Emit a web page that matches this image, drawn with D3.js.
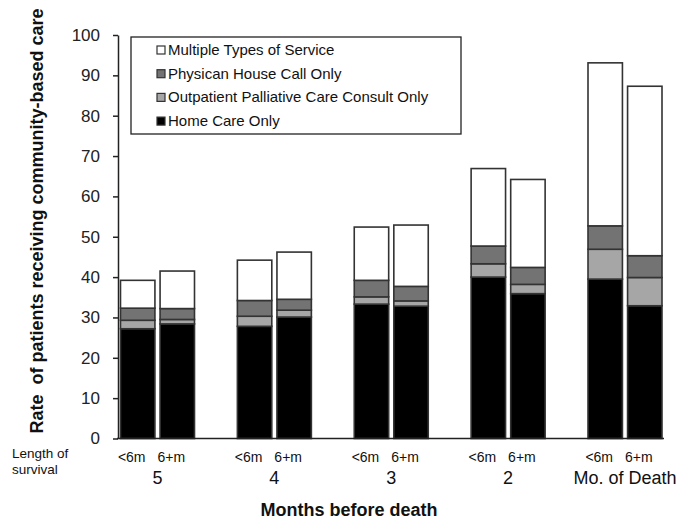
<!DOCTYPE html>
<html>
<head>
<meta charset="utf-8">
<script src="https://cdn.jsdelivr.net/npm/d3@7"></script>
<style>
html,body{margin:0;padding:0;background:#fff;}
svg{display:block;font-family:"Liberation Sans",Arial,sans-serif;}
</style>
</head>
<body>
<svg id="chart" width="676" height="519"></svg>
<script>
const months = ["5", "4", "3", "2", "Mo. of Death"];
const survival = ["<6m", "6+m"];
const seriesNames = ["Home Care Only", "Outpatient Palliative Care Consult Only", "Physican House Call Only", "Multiple Types of Service"];
const seriesColors = ["#000000", "#a6a6a6", "#737373", "#ffffff"];
// values per bar, in order: 5 <6m, 5 6+m, 4 <6m, 4 6+m, ...
const homeCare     = [27.2, 28.4, 27.8, 30.1, 33.3, 32.8, 40.0, 35.9, 39.5, 32.9];
const outpatient   = [2.1, 1.1, 2.5, 1.7, 1.8, 1.3, 3.3, 2.3, 7.4, 7.0];
const physician    = [3.0, 2.7, 3.9, 2.7, 4.1, 3.6, 4.4, 4.2, 5.8, 5.4];
const multiple     = [6.9, 9.3, 10.0, 11.7, 13.2, 15.2, 19.2, 21.8, 40.4, 42.0];
const yTicks = [0, 10, 20, 30, 40, 50, 60, 70, 80, 90, 100];

const svg = d3.select("#chart");
const font = '"Liberation Sans",Arial,sans-serif';

const rows = [];
months.forEach((m, i) => survival.forEach((s, j) => {
  const k = i * 2 + j;
  rows.push({month: m, surv: s, v: [homeCare[k], outpatient[k], physician[k], multiple[k]]});
}));

const y = d3.scaleLinear().domain([0, 100]).range([438.5, 35]);
const xg = d3.scalePoint().domain(months).range([157.5, 625]);
const xi = d3.scaleBand().domain(survival).range([-37, 37]).paddingInner(0.13);

// y axis
const yAxis = svg.append("g").attr("transform", "translate(118,0)")
  .call(d3.axisLeft(y).tickValues(yTicks).tickSize(5).tickPadding(13).tickSizeOuter(0));
yAxis.select(".domain").attr("stroke", "#222").attr("stroke-width", 1.5);
yAxis.selectAll(".tick line").attr("stroke", "#222").attr("stroke-width", 1.5);
yAxis.selectAll(".tick text").attr("font-size", 17).attr("fill", "#222").attr("font-family", font);

// bars
const stack = d3.stack().keys([0, 1, 2, 3]).value((d, k) => d.v[k]);
const layers = stack(rows);
svg.append("g").selectAll("g").data(layers).join("g")
  .attr("fill", (d, i) => seriesColors[i])
  .selectAll("rect").data(d => d).join("rect")
  .attr("x", d => xg(d.data.month) + xi(d.data.surv))
  .attr("width", xi.bandwidth())
  .attr("y", d => y(d[1]))
  .attr("height", d => y(d[0]) - y(d[1]))
  .attr("stroke", "#333").attr("stroke-width", 1.6);

// x baseline
svg.append("line").attr("x1", 117).attr("x2", 664).attr("y1", y(0)).attr("y2", y(0))
  .attr("stroke", "#222").attr("stroke-width", 1.5);

// survival labels
const lab = svg.append("g").attr("font-family", font).attr("fill", "#111");
rows.forEach(r => {
  lab.append("text").attr("x", xg(r.month) + xi(r.surv) + xi.bandwidth() / 2 - 6).attr("y", 462)
    .attr("text-anchor", "middle").attr("font-size", 14).text(r.surv);
});
months.forEach(m => {
  lab.append("text").attr("x", xg(m)).attr("y", 484)
    .attr("text-anchor", "middle").attr("font-size", 18).text(m);
});
lab.append("text").attr("x", 12).attr("y", 458).attr("font-size", 13.5).text("Length of");
lab.append("text").attr("x", 12).attr("y", 474).attr("font-size", 13.5).text("survival");

// axis titles
svg.append("text").attr("x", 349).attr("y", 516).attr("text-anchor", "middle")
  .attr("font-family", font).attr("font-weight", "bold").attr("font-size", 18).attr("fill", "#111")
  .text("Months before death");
svg.append("text").attr("transform", "translate(43,221) rotate(-90)").attr("text-anchor", "middle")
  .attr("font-family", font).attr("font-weight", "bold").attr("font-size", 18).attr("fill", "#111")
  .attr("xml:space", "preserve").style("white-space", "pre")
  .text("Rate  of patients receiving community-based care");

// legend
const lg = svg.append("g");
lg.append("rect").attr("x", 131).attr("y", 37).attr("width", 330).attr("height", 97)
  .attr("fill", "#fff").attr("stroke", "#222").attr("stroke-width", 1.3);
const order = [3, 2, 1, 0];
order.forEach((si, r) => {
  const by = 55 + r * 23.7;
  lg.append("rect").attr("x", 157).attr("y", by - 9).attr("width", 8).attr("height", 8)
    .attr("fill", seriesColors[si]).attr("stroke", "#333").attr("stroke-width", 1.2);
  lg.append("text").attr("x", 168).attr("y", by).attr("font-family", font).attr("font-size", 15)
    .attr("fill", "#111").text(seriesNames[si]);
});
</script>
</body>
</html>
